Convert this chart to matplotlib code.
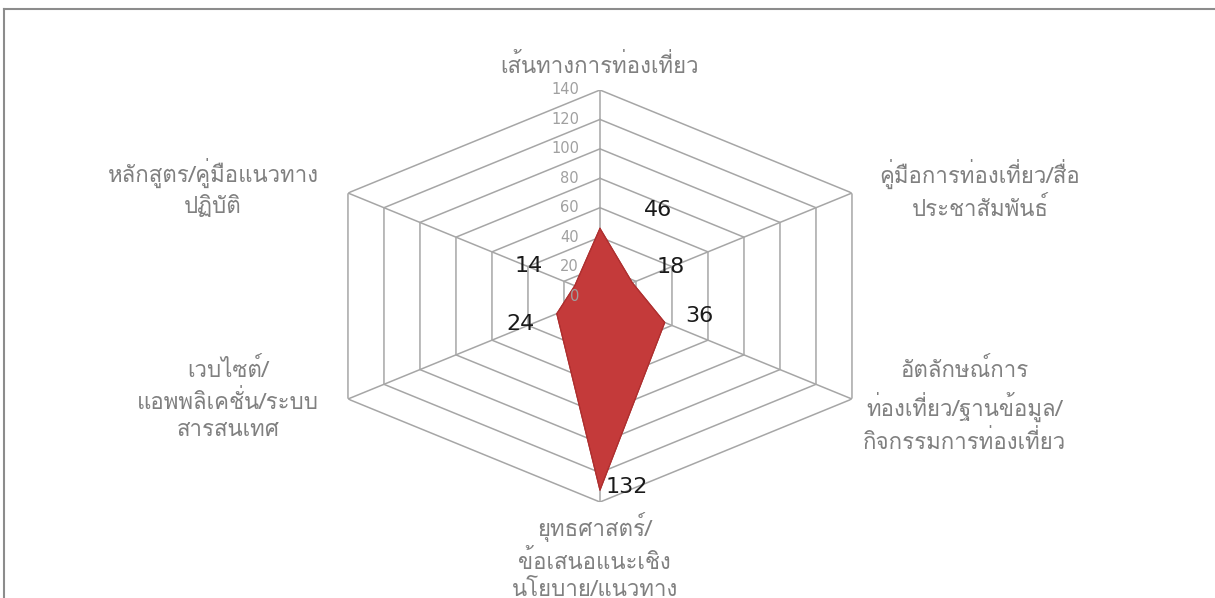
import matplotlib
matplotlib.use('Agg')
import matplotlib.pyplot as plt
import numpy as np
from matplotlib.lines import Line2D

categories = [
    'เส้นทางการท่องเที่ยว',
    'คู่มือการท่องเที่ยว/สื่อ\nประชาสัมพันธ์',
    'อัตลักษณ์การ\nท่องเที่ยว/ฐานข้อมูล/\nกิจกรรมการท่องเที่ยว',
    'ยุทธศาสตร์/\nข้อเสนอแนะเชิง\nนโยบาย/แนวทาง',
    'เวบไซต์/\nแอพพลิเคชั่น/ระบบ\nสารสนเทศ',
    'หลักสูตร/คู่มือแนวทาง\nปฏิบัติ',
]
values = [46, 18, 36, 132, 24, 14]
rticks = [0, 20, 40, 60, 80, 100, 120, 140]

plt.rcParams['font.family'] = ['Loma', 'DejaVu Sans']

grid_col = '#a6a6a6'
label_col = '#808080'

fig = plt.figure(figsize=(12.15, 5.98), dpi=100)
ax = fig.add_axes([0.2543, 0.1605, 0.479, 0.689], projection='polar')
ax.set_aspect('auto')
ax.set_theta_zero_location('N')
ax.set_theta_direction(-1)
ax.set_ylim(0, 140)
ax.grid(False)
ax.spines['polar'].set_visible(False)
ax.set_xticks([])
ax.set_yticks([])

angles = np.arange(len(values)) * 2 * np.pi / len(values)
closed = np.append(angles, angles[0])

for r in rticks[1:]:
    ax.plot(closed, [r] * len(closed), color=grid_col, lw=1.1, zorder=1)
for a in angles:
    ax.plot([a, a], [0, rticks[-1]], color=grid_col, lw=1.1, zorder=1)

ax.fill(angles, values, color='#c43a3a', edgecolor='#a52a2a', lw=0.8, zorder=2)
ax.plot(closed, np.append(values, values[0]), color='#b03030', lw=0.8, zorder=3)

for r in rticks:
    ax.annotate(str(r), (0, r), xytext=(-21, 0), textcoords='offset pixels',
                ha='right', va='center', fontsize=10.5, color='#a0a0a0',
                family='DejaVu Sans')

# data labels
offsets = [(44, 18), (24, 16), (20, 6), (6, 3), (-22, -10), (-32, 20)]
has = ['left', 'left', 'left', 'left', 'right', 'right']
for a, v, off, h in zip(angles, values, offsets, has):
    ax.annotate(str(v), (a, v), xytext=off, textcoords='offset pixels',
                ha=h, va='center', fontsize=16, color='#1a1a1a', zorder=5,
                family='DejaVu Sans')

# category labels in axes fractions
label_pos = [(0.5, 1.058), (1.153, 0.757), (1.127, 0.233),
             (0.491, -0.132), (-0.139, 0.248), (-0.165, 0.762)]
for txt, (x, y) in zip(categories, label_pos):
    ax.text(x, y, txt, transform=ax.transAxes, ha='center', va='center',
            fontsize=16, color=label_col, linespacing=1.4, clip_on=False)

# chart frame
fig.add_artist(Line2D([4 / 1215, 1], [1 - 9 / 598] * 2, color='#8c8c8c', lw=1.5))
fig.add_artist(Line2D([4 / 1215] * 2, [0, 1 - 9 / 598], color='#8c8c8c', lw=1.5))

fig.savefig('out.png', dpi=100)
